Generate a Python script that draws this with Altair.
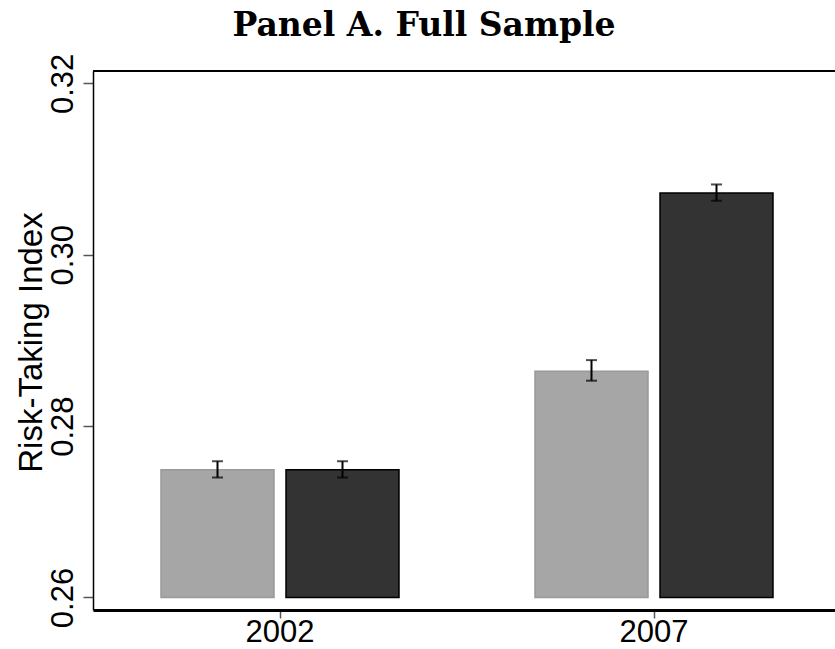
import altair as alt
import pandas as pd

years = ["2002", "2002", "2007", "2007"]
groups = ["g1", "g2", "g1", "g2"]
means = [0.2749, 0.2749, 0.2864, 0.3072]
lower = [0.2740, 0.2740, 0.2853, 0.3063]
upper = [0.2759, 0.2759, 0.2877, 0.3082]
base = [0.26, 0.26, 0.26, 0.26]

group_domain = ["g1", "g2"]
fill_colors = ["#a6a6a6", "#333333"]
stroke_colors = ["#999999", "#000000"]
y_ticks = [0.26, 0.28, 0.30, 0.32]

df = pd.DataFrame({"year": years, "group": groups, "mean": means,
                   "lower": lower, "upper": upper, "base": base})

SANS = "Liberation Sans, Arial, Helvetica, sans-serif"
W, H = 742, 539

x_enc = alt.X("year:N", title=None,
              scale=alt.Scale(paddingInner=0, paddingOuter=0, range=[0, 748]),
              axis=alt.Axis(labelAngle=0, labelFont=SANS, labelFontSize=31,
                            labelColor="black", labelBaseline="alphabetic",
                            labelPadding=23, tickSize=8, tickColor="#555555",
                            tickWidth=1.5, domainColor="black", domainWidth=3,
                            grid=False))
xoff_enc = alt.XOffset("group:N", scale=alt.Scale(domain=group_domain,
                                                  paddingInner=0.096,
                                                  paddingOuter=0.544))
y_scale = alt.Scale(domain=[0.25854, 0.32144], nice=False, zero=False)

bars = alt.Chart(df).mark_bar(strokeWidth=1.5).encode(
    x=x_enc,
    xOffset=xoff_enc,
    y=alt.Y("mean:Q", scale=y_scale, title="Risk-Taking Index",
            axis=alt.Axis(values=y_ticks, format=".2f", labelAngle=-90,
                          labelAlign="center", labelBaseline="alphabetic",
                          labelPadding=11, labelFont=SANS, labelFontSize=31,
                          labelColor="black", tickSize=10, tickColor="#555555",
                          tickWidth=1.5, domainColor="black", domainWidth=1.5,
                          grid=False, titleFont=SANS, titleFontSize=33,
                          titleFontWeight="normal", titleColor="black",
                          titleAngle=-90, titleAlign="center",
                          titleBaseline="alphabetic", titleX=-52, titleY=271)),
    y2="base:Q",
    color=alt.Color("group:N", scale=alt.Scale(domain=group_domain, range=fill_colors), legend=None),
    stroke=alt.Stroke("group:N", scale=alt.Scale(domain=group_domain, range=stroke_colors), legend=None),
)

rules = alt.Chart(df).mark_rule(color="black", strokeWidth=2).encode(
    x="year:N", xOffset=xoff_enc,
    y=alt.Y("lower:Q", scale=y_scale), y2="upper:Q")

cap_lo = alt.Chart(df).mark_tick(color="black", size=11, thickness=2).encode(
    x="year:N", xOffset=xoff_enc, y=alt.Y("lower:Q", scale=y_scale))
cap_hi = alt.Chart(df).mark_tick(color="black", size=11, thickness=2).encode(
    x="year:N", xOffset=xoff_enc, y=alt.Y("upper:Q", scale=y_scale))

top_line = alt.Chart(df).mark_rule(color="black", strokeWidth=2).encode(
    x=alt.value(0), x2=alt.value(W), y=alt.value(0))

chart = alt.layer(bars, rules, cap_lo, cap_hi, top_line).properties(
    width=W, height=H,
    title=alt.TitleParams("Panel A. Full Sample", font="DejaVu Serif",
                          fontWeight="bold", fontSize=33, color="black",
                          anchor="middle", frame="group", dx=-40,
                          baseline="alphabetic", offset=-16),
    autosize=alt.AutoSizeParams(type="none"),
    padding={"left": 93, "top": 71, "right": 0, "bottom": 39},
    background="white",
).configure_view(strokeWidth=0)

chart.save("out.html", embed_options={"renderer": "svg", "actions": False})
